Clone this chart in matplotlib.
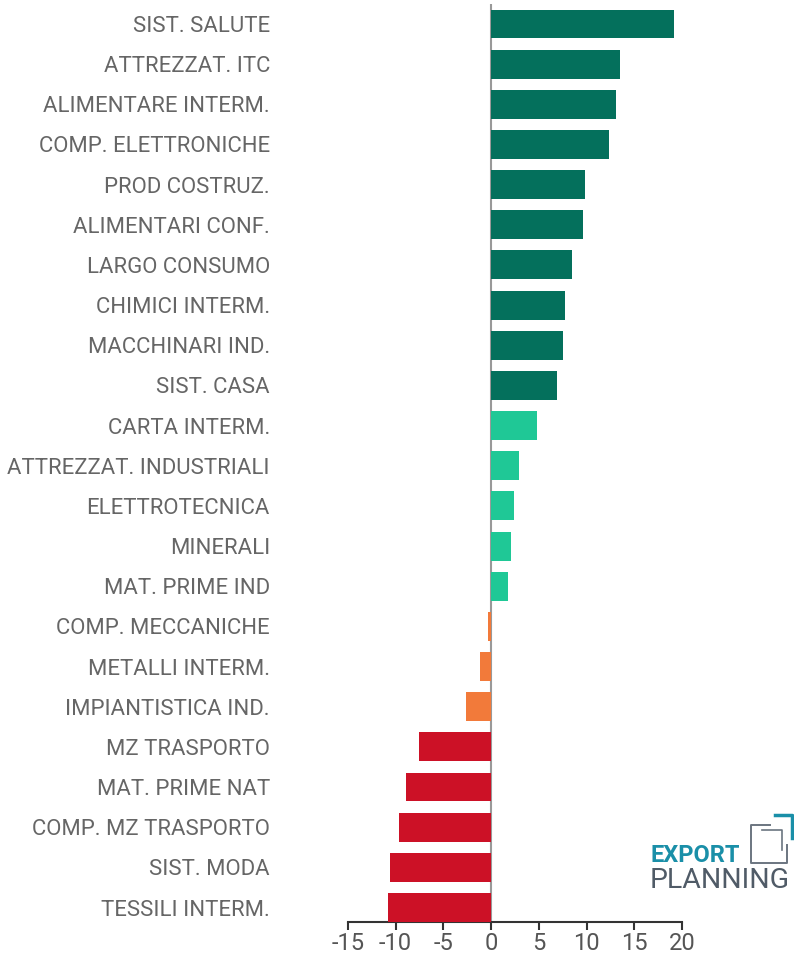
import matplotlib.pyplot as plt
from matplotlib.lines import Line2D

plt.rcParams['font.family'] = ['Roboto', 'DejaVu Sans']

# dati
settori = ["SIST. SALUTE", "ATTREZZAT. ITC", "ALIMENTARE INTERM.", "COMP. ELETTRONICHE",
           "PROD COSTRUZ.", "ALIMENTARI CONF.", "LARGO CONSUMO", "CHIMICI INTERM.",
           "MACCHINARI IND.", "SIST. CASA", "CARTA INTERM.", "ATTREZZAT. INDUSTRIALI",
           "ELETTROTECNICA", "MINERALI", "MAT. PRIME IND", "COMP. MECCANICHE",
           "METALLI INTERM.", "IMPIANTISTICA IND.", "MZ TRASPORTO", "MAT. PRIME NAT",
           "COMP. MZ TRASPORTO", "SIST. MODA", "TESSILI INTERM."]
valori = [19.2, 13.5, 13.1, 12.4, 9.85, 9.6, 8.5, 7.7, 7.5, 6.9,
          4.8, 2.9, 2.4, 2.1, 1.8, -0.3, -1.2, -2.6, -7.5, -8.9, -9.6, -10.6, -10.8]
classi = ["top"] * 10 + ["su"] * 5 + ["giu"] * 3 + ["crollo"] * 5
tick_vals = [-15, -10, -5, 0, 5, 10, 15, 20]

colori = {"top": "#04705C", "su": "#1FC896", "giu": "#F27A3A", "crollo": "#CC1126"}

fig = plt.figure(figsize=(7.94, 9.56), dpi=100)
ax = fig.add_axes([0.438, 0.0356, 0.421, 0.9603])

pos = list(range(len(settori)))
ax.barh(pos, valori, height=0.72, color=[colori[c] for c in classi], zorder=3)
ax.axvline(0, color="#999999", lw=1.5, zorder=2)

ax.set_ylim(22.36, -0.5)
ax.set_xlim(-15, 20)
ax.set_xticks(tick_vals)
ax.set_xticklabels([str(v) for v in tick_vals], fontsize=17, color="#555555")
ax.set_yticks(pos)
ax.set_yticklabels(settori, fontsize=15.9, color="#666666")
ax.tick_params(axis="y", length=0, pad=56)
ax.tick_params(axis="x", length=6, width=1.5, color="#333333", pad=1)
for s in ["top", "right", "left"]:
    ax.spines[s].set_visible(False)
ax.spines["bottom"].set_linewidth(1.5)
ax.spines["bottom"].set_color("#333333")

# logo
W, H = 794, 956
def px(x, y):
    return x / W, 1 - y / H
fig.text(*px(651, 856), "EXPORT", fontsize=17, fontweight="bold", color="#1A8FA8",
         va="center", ha="left")
fig.text(*px(650, 880), "PLANNING", fontsize=20.5, color="#505B67",
         va="center", ha="left")
grigio = "#6B7580"
teal = "#1A8FA8"
lines = [
    ([770, 751, 751, 787, 787], [825, 825, 863, 863, 845], grigio, 1.4),
    ([762, 782, 782], [830, 830, 850], grigio, 1.2),
    ([775, 792, 792], [815, 815, 838], teal, 2.5),
]
for xs, ys, c, lw in lines:
    fig.add_artist(Line2D([x / W for x in xs], [1 - y / H for y in ys],
                          color=c, lw=lw, transform=fig.transFigure))

fig.savefig("out.png", dpi=100)
